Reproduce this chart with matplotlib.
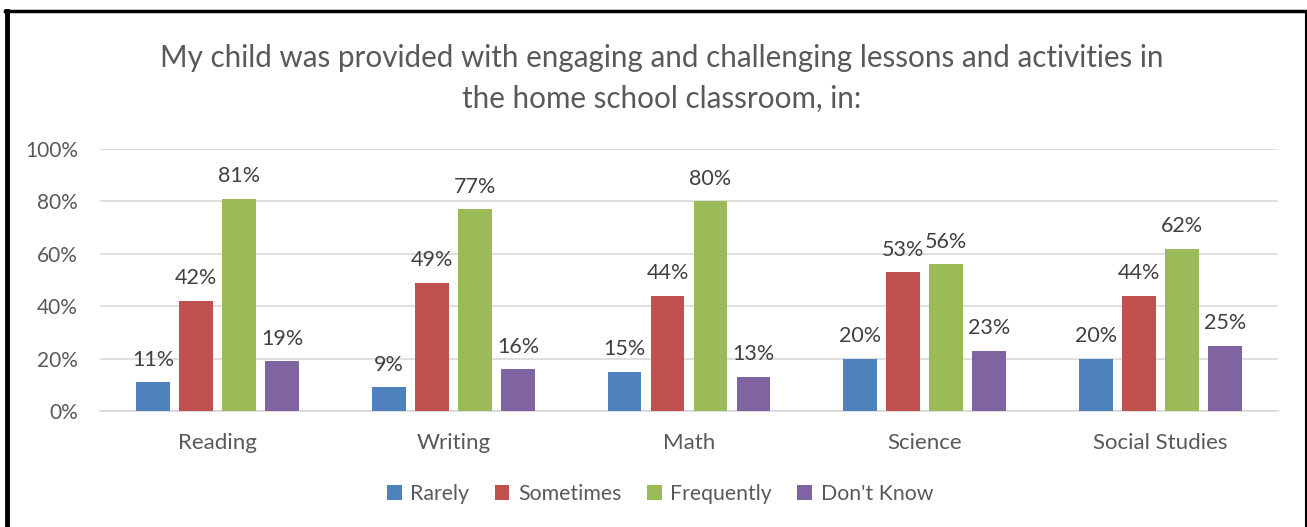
import matplotlib.pyplot as plt
import numpy as np
from matplotlib.lines import Line2D

categories = ['Reading', 'Writing', 'Math', 'Science', 'Social Studies']
series_names = ['Rarely', 'Sometimes', 'Frequently', "Don't Know"]
rarely = [11, 9, 15, 20, 20]
sometimes = [42, 49, 44, 53, 44]
frequently = [81, 77, 80, 56, 62]
dont_know = [19, 16, 13, 23, 25]
colors = ['#4F81BD', '#C0504D', '#9BBB59', '#8064A2']

title = ('My child was provided with engaging and challenging lessons and activities in\n'
         'the home school classroom, in:')

plt.rcParams['font.family'] = ['Lato', 'DejaVu Sans']
grey = '#595959'

fig = plt.figure(figsize=(13.07, 5.27), dpi=100)
ax = fig.add_axes([100 / 1307, 116 / 527, 1178 / 1307, 262 / 527])

x = np.arange(len(categories)) + 0.5
width = 0.144
step = 0.1825
all_series = [rarely, sometimes, frequently, dont_know]

for i, vals in enumerate(all_series):
    pos = x + (i - 1.5) * step
    bars = ax.bar(pos, vals, width, color=colors[i], label=series_names[i], zorder=3)
    for b, v in zip(bars, vals):
        ax.annotate(f'{v}%', (b.get_x() + b.get_width() / 2, v),
                    xytext=(0, 9), textcoords='offset points',
                    ha='center', va='bottom', fontsize=15.5, color='#404040')

ax.set_xlim(0, len(categories))
ax.set_ylim(0, 100)
ax.set_yticks(range(0, 101, 20))
ax.set_yticklabels([f'{t}%' for t in range(0, 101, 20)])
ax.set_xticks(x)
ax.set_xticklabels(categories)
ax.tick_params(axis='both', length=0, labelsize=15, labelcolor=grey)
ax.tick_params(axis='x', labelsize=16, pad=16)
ax.tick_params(axis='y', pad=16)
ax.grid(axis='y', color='#D9D9D9', linewidth=1.2, zorder=0)
for s in ['top', 'right', 'left']:
    ax.spines[s].set_visible(False)
ax.spines['bottom'].set_color('#D9D9D9')
ax.spines['bottom'].set_linewidth(1.2)

fig.text(0.506, 1 - 78.5 / 527, title, ha='center', va='center',
         fontsize=21.3, color=grey, linespacing=1.55)

fig.legend(loc='center', bbox_to_anchor=(0.505, 1 - 494 / 527), ncol=4,
           frameon=False, fontsize=15.3, labelcolor=grey,
           handlelength=0.7, handleheight=0.7, handletextpad=0.4,
           columnspacing=1.2)

# black frame around the chart
fig.add_artist(Line2D([7 / 1307, 7 / 1307], [0, 1 - 11 / 527], color='black', lw=3.5,
                      transform=fig.transFigure))
fig.add_artist(Line2D([5 / 1307, 1306 / 1307], [1 - 11 / 527, 1 - 11 / 527], color='black',
                      lw=2.5, transform=fig.transFigure))
fig.add_artist(Line2D([1305.5 / 1307, 1305.5 / 1307], [0, 1 - 11 / 527], color='black',
                      lw=1.5, transform=fig.transFigure))

fig.savefig('out.png', dpi=100)
